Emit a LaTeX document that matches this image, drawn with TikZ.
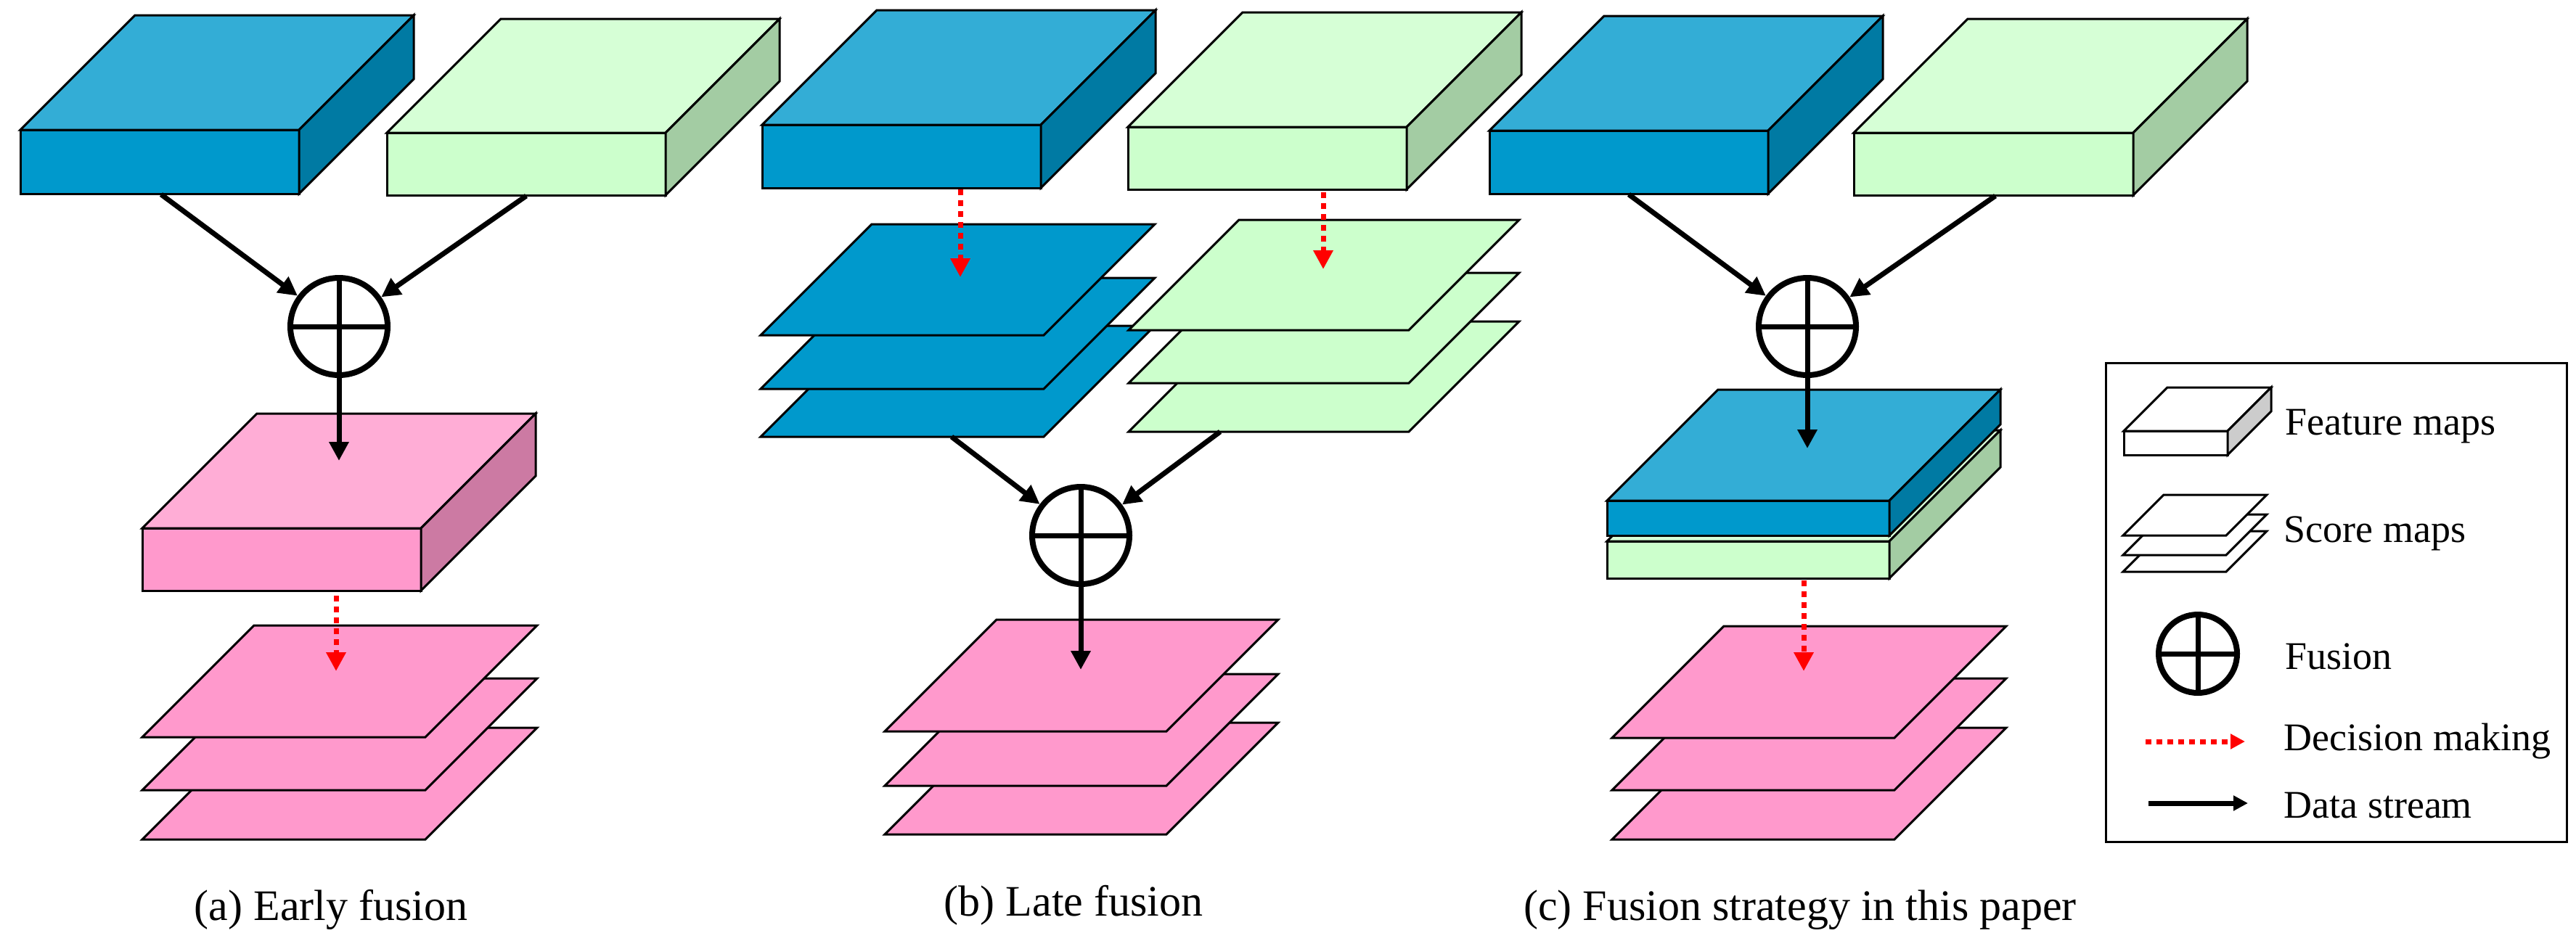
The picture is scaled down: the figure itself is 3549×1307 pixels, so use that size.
\documentclass[tikz,border=0pt]{standalone}
\usepackage{fontspec}
\setmainfont{Liberation Serif}
\usetikzlibrary{arrows.meta}
\definecolor{bF}{RGB}{0,153,204}\definecolor{bT}{RGB}{51,173,214}\definecolor{bS}{RGB}{0,122,163}
\definecolor{gF}{RGB}{204,255,204}\definecolor{gT}{RGB}{214,255,214}\definecolor{gS}{RGB}{163,204,163}
\definecolor{pF}{RGB}{255,153,204}\definecolor{pT}{RGB}{255,173,214}\definecolor{pS}{RGB}{204,122,163}
\newcommand\fmap[8]{% x y w h d front top side
 \filldraw[fill=#6,box] (#1,#2) rectangle ++(#3,#4);
 \filldraw[fill=#7,box] (#1,#2) -- ++(#5,-#5) -- ++(#3,0) -- ++(-#5,#5) -- cycle;
 \filldraw[fill=#8,box] (#1+#3,#2) -- ++(#5,-#5) -- ++(0,#4) -- ++(-#5,#5) -- cycle;}
\newcommand\smap[5]{% x y(front edge) w d color
 \filldraw[fill=#5,box] (#1,#2) -- ++(#4,-#4) -- ++(#3,0) -- ++(-#4,#4) -- cycle;}
\tikzset{box/.style={draw=black,line width=3pt,line join=miter},
 fus/.style={circle,draw,line width=8pt,minimum size=134pt,inner sep=0pt,
   path picture={\draw[line width=7pt] (path picture bounding box.north)--(path picture bounding box.south)
   (path picture bounding box.west)--(path picture bounding box.east);}},
 data/.style={line width=7pt,-{Triangle[length=26pt,width=26pt]}},
 dec/.style={red,line width=7pt,dash pattern=on 8pt off 7pt,-{Triangle[length=26pt,width=26pt]}},
 lab/.style={font=\fontsize{60}{62}\selectfont},
 leg/.style={font=\fontsize{54}{56}\selectfont,anchor=west}}
\begin{document}
\begin{tikzpicture}[x=1pt,y=-1pt]
\useasboundingbox (0,0) rectangle (3549,1307);
% (a)
\fmap{28}{179}{384}{88}{158}{bF}{bT}{bS}
\fmap{533}{183}{384}{86}{157}{gF}{gT}{gS}
\node[fus] (fa) at (467,450) {};
\coordinate (a1) at (222,268); \coordinate (a2) at (725,270);
\draw[data] (a1) -- (fa); \draw[data] (a2) -- (fa);
\fmap{196}{728}{384}{86}{158}{pF}{pT}{pS}
\coordinate (a3) at (467,635); \draw[data] (fa.south) -- (a3);
\smap{196}{1157}{390}{154}{pF}\smap{196}{1089}{390}{154}{pF}\smap{196}{1016}{390}{154}{pF}
\coordinate (a4) at (463,821); \coordinate (a5) at (463,925); \draw[dec] (a4) -- (a5);
\node[lab] (ca) at (456,1254) {(a) Early fusion};
% (b)
\fmap{1050}{172}{384}{87}{158}{bF}{bT}{bS}
\fmap{1554}{175}{384}{86}{158}{gF}{gT}{gS}
\smap{1048}{602}{390}{153}{bF}\smap{1048}{536}{390}{153}{bF}\smap{1048}{462}{390}{153}{bF}
\smap{1555}{595}{386}{152}{gF}\smap{1555}{528}{386}{152}{gF}\smap{1555}{455}{386}{152}{gF}
\coordinate (b1) at (1323,261); \coordinate (b2) at (1323,382); \draw[dec] (b1) -- (b2);
\coordinate (b3) at (1823,265); \coordinate (b4) at (1823,371); \draw[dec] (b3) -- (b4);
\node[fus] (fb) at (1489,738) {};
\coordinate (b5) at (1311,602); \coordinate (b6) at (1681,595);
\draw[data] (b5) -- (fb); \draw[data] (b6) -- (fb);
\smap{1219}{1150}{388}{154}{pF}\smap{1219}{1083}{388}{154}{pF}\smap{1219}{1008}{388}{154}{pF}
\coordinate (b7) at (1489,923); \draw[data] (fb.south) -- (b7);
\node[lab] (cb) at (1479,1248) {(b) Late fusion};
% (c)
\fmap{2052}{180}{384}{87}{158}{bF}{bT}{bS}
\fmap{2554}{183}{385}{86}{157}{gF}{gT}{gS}
\node[fus] (fc) at (2490,450) {};
\coordinate (c1) at (2244,268); \coordinate (c2) at (2749,270);
\draw[data] (c1) -- (fc); \draw[data] (c2) -- (fc);
\fmap{2214}{746}{389}{51}{153}{gF}{gT}{gS}
\fmap{2214}{690}{389}{48}{153}{bF}{bT}{bS}
\coordinate (c3) at (2490,618); \draw[data] (fc.south) -- (c3);
\smap{2221}{1157}{389}{154}{pF}\smap{2221}{1089}{389}{154}{pF}\smap{2221}{1017}{389}{154}{pF}
\coordinate (c4) at (2485,800); \coordinate (c5) at (2485,925); \draw[dec] (c4) -- (c5);
\node[lab] (cc) at (2480,1254) {(c) Fusion strategy in this paper};
% legend
\draw[line width=3pt] (2901,500) rectangle (3536,1160);
\fmap{2926}{594}{143}{33}{60}{white}{white}{black!20}
\node[leg] (l1) at (3145,588) {Feature maps};
\smap{2925}{788}{142}{56}{white}\smap{2925}{765}{142}{56}{white}\smap{2925}{738}{142}{56}{white}
\node[leg] (l2) at (3143,735) {Score maps};
\node[fus,minimum size=108pt] (lf) at (3028,901) {};
\node[leg] (l3) at (3145,905) {Fusion};
\coordinate (d1) at (2956,1022); \coordinate (d2) at (3093,1022);
\draw[dec,-{Triangle[length=20pt,width=20pt]}] (d1) -- (d2);
\node[leg] (l4) at (3143,1022) {Decision making};
\coordinate (e1) at (2960,1107); \coordinate (e2) at (3097,1107);
\draw[data,-{Triangle[length=20pt,width=20pt]}] (e1) -- (e2);
\node[leg] (l5) at (3143,1110) {Data stream};
\end{tikzpicture}
\end{document}
